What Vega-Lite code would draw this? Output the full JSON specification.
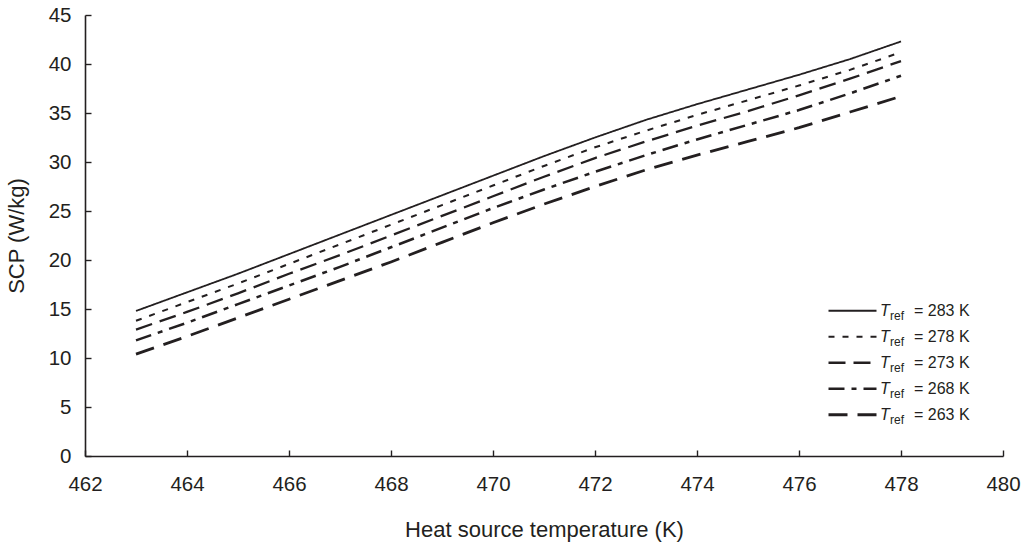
{
  "$schema": "https://vega.github.io/schema/vega-lite/v6.json",
  "width": 918,
  "height": 441,
  "autosize": {"type": "none"},
  "padding": {"left": 85, "top": 15, "right": 19, "bottom": 89},
  "background": "white",
  "config": {
    "view": {"stroke": null},
    "font": "Liberation Sans",
    "axis": {
      "domainColor": "#231f20",
      "domainWidth": 1.6,
      "tickColor": "#231f20",
      "tickWidth": 1.4,
      "grid": false,
      "labelColor": "#231f20",
      "titleColor": "#231f20",
      "labelFont": "Liberation Sans",
      "titleFont": "Liberation Sans",
      "labelFontSize": 20.5,
      "titleFontSize": 22,
      "titleFontWeight": "normal",
      "labelFlush": false
    },
    "legend": {
      "orient": "none",
      "title": null,
      "labelFont": "Liberation Sans",
      "labelColor": "#231f20",
      "symbolType": "stroke",
      "padding": 0,
      "rowPadding": 0,
      "clipHeight": 25.5
    }
  },
  "data": {
    "values": [
      {"T": 463, "SCP": 14.8, "Tref": 283}, {"T": 464, "SCP": 16.7, "Tref": 283}, {"T": 465, "SCP": 18.6, "Tref": 283}, {"T": 466, "SCP": 20.6, "Tref": 283},
      {"T": 467, "SCP": 22.6, "Tref": 283}, {"T": 468, "SCP": 24.6, "Tref": 283}, {"T": 469, "SCP": 26.6, "Tref": 283}, {"T": 470, "SCP": 28.6, "Tref": 283},
      {"T": 471, "SCP": 30.6, "Tref": 283}, {"T": 472, "SCP": 32.5, "Tref": 283}, {"T": 473, "SCP": 34.3, "Tref": 283}, {"T": 474, "SCP": 35.9, "Tref": 283},
      {"T": 475, "SCP": 37.4, "Tref": 283}, {"T": 476, "SCP": 38.9, "Tref": 283}, {"T": 477, "SCP": 40.5, "Tref": 283}, {"T": 478, "SCP": 42.3, "Tref": 283},

      {"T": 463, "SCP": 13.8, "Tref": 278}, {"T": 464, "SCP": 15.7, "Tref": 278}, {"T": 465, "SCP": 17.6, "Tref": 278}, {"T": 466, "SCP": 19.6, "Tref": 278},
      {"T": 467, "SCP": 21.6, "Tref": 278}, {"T": 468, "SCP": 23.6, "Tref": 278}, {"T": 469, "SCP": 25.6, "Tref": 278}, {"T": 470, "SCP": 27.6, "Tref": 278},
      {"T": 471, "SCP": 29.6, "Tref": 278}, {"T": 472, "SCP": 31.5, "Tref": 278}, {"T": 473, "SCP": 33.2, "Tref": 278}, {"T": 474, "SCP": 34.8, "Tref": 278},
      {"T": 475, "SCP": 36.3, "Tref": 278}, {"T": 476, "SCP": 37.8, "Tref": 278}, {"T": 477, "SCP": 39.4, "Tref": 278}, {"T": 478, "SCP": 41.2, "Tref": 278},

      {"T": 463, "SCP": 12.9, "Tref": 273}, {"T": 464, "SCP": 14.7, "Tref": 273}, {"T": 465, "SCP": 16.6, "Tref": 273}, {"T": 466, "SCP": 18.6, "Tref": 273},
      {"T": 467, "SCP": 20.5, "Tref": 273}, {"T": 468, "SCP": 22.5, "Tref": 273}, {"T": 469, "SCP": 24.5, "Tref": 273}, {"T": 470, "SCP": 26.5, "Tref": 273},
      {"T": 471, "SCP": 28.5, "Tref": 273}, {"T": 472, "SCP": 30.4, "Tref": 273}, {"T": 473, "SCP": 32.1, "Tref": 273}, {"T": 474, "SCP": 33.7, "Tref": 273},
      {"T": 475, "SCP": 35.2, "Tref": 273}, {"T": 476, "SCP": 36.8, "Tref": 273}, {"T": 477, "SCP": 38.5, "Tref": 273}, {"T": 478, "SCP": 40.3, "Tref": 273},

      {"T": 463, "SCP": 11.8, "Tref": 268}, {"T": 464, "SCP": 13.6, "Tref": 268}, {"T": 465, "SCP": 15.5, "Tref": 268}, {"T": 466, "SCP": 17.4, "Tref": 268},
      {"T": 467, "SCP": 19.3, "Tref": 268}, {"T": 468, "SCP": 21.3, "Tref": 268}, {"T": 469, "SCP": 23.3, "Tref": 268}, {"T": 470, "SCP": 25.3, "Tref": 268},
      {"T": 471, "SCP": 27.2, "Tref": 268}, {"T": 472, "SCP": 29.0, "Tref": 268}, {"T": 473, "SCP": 30.7, "Tref": 268}, {"T": 474, "SCP": 32.3, "Tref": 268},
      {"T": 475, "SCP": 33.8, "Tref": 268}, {"T": 476, "SCP": 35.3, "Tref": 268}, {"T": 477, "SCP": 37.0, "Tref": 268}, {"T": 478, "SCP": 38.8, "Tref": 268},

      {"T": 463, "SCP": 10.4, "Tref": 263}, {"T": 464, "SCP": 12.2, "Tref": 263}, {"T": 465, "SCP": 14.1, "Tref": 263}, {"T": 466, "SCP": 16.0, "Tref": 263},
      {"T": 467, "SCP": 17.9, "Tref": 263}, {"T": 468, "SCP": 19.8, "Tref": 263}, {"T": 469, "SCP": 21.8, "Tref": 263}, {"T": 470, "SCP": 23.8, "Tref": 263},
      {"T": 471, "SCP": 25.7, "Tref": 263}, {"T": 472, "SCP": 27.5, "Tref": 263}, {"T": 473, "SCP": 29.2, "Tref": 263}, {"T": 474, "SCP": 30.7, "Tref": 263},
      {"T": 475, "SCP": 32.1, "Tref": 263}, {"T": 476, "SCP": 33.5, "Tref": 263}, {"T": 477, "SCP": 35.1, "Tref": 263}, {"T": 478, "SCP": 36.7, "Tref": 263}
    ]
  },
  "mark": {"type": "line", "strokeCap": "butt"},
  "encoding": {
    "x": {
      "field": "T",
      "type": "quantitative",
      "title": "Heat source temperature (K)",
      "scale": {"domain": [462, 480], "nice": false, "zero": false},
      "axis": {
        "values": [462, 464, 466, 468, 470, 472, 474, 476, 478, 480],
        "tickSize": -6,
        "labelPadding": 24,
        "titlePadding": 25
      }
    },
    "y": {
      "field": "SCP",
      "type": "quantitative",
      "title": "SCP (W/kg)",
      "scale": {"domain": [0, 45], "nice": false},
      "axis": {
        "values": [0, 5, 10, 15, 20, 25, 30, 35, 40, 45],
        "tickSize": -6,
        "labelPadding": 20,
        "titlePadding": 20
      }
    },
    "strokeDash": {
      "field": "Tref",
      "type": "ordinal",
      "scale": {
        "domain": [283, 278, 273, 268, 263],
        "range": [[1, 0], [6, 8], [17, 8], [16, 7, 5, 7], [19, 10]]
      },
      "legend": {
        "legendX": 742,
        "legendY": 283,
        "symbolSize": 2304,
        "symbolStrokeColor": "#231f20",
        "symbolStrokeWidth": 2.2,
        "labelFontSize": 16,
        "labelOffset": 36,
        "labelExpr": "'= ' + datum.label + ' K'"
      }
    },
    "strokeWidth": {
      "field": "Tref",
      "type": "ordinal",
      "scale": {
        "domain": [283, 278, 273, 268, 263],
        "range": [1.8, 2.8, 2.8, 2.8, 2.8]
      }
    },
    "opacity": {
      "field": "Tref",
      "type": "ordinal",
      "scale": {"domain": [263, 268, 273, 278, 283], "range": [1, 1, 1, 1, 1]},
      "legend": {
        "legendX": 779,
        "legendY": 283,
        "symbolSize": 1,
        "symbolOpacity": 0,
        "symbolStrokeWidth": 0,
        "labelOffset": 0,
        "labelFontSize": 16,
        "labelFontStyle": "italic",
        "labelExpr": "'T'"
      }
    },
    "color": {
      "field": "Tref",
      "type": "ordinal",
      "scale": {"domain": [278, 283, 273, 268, 263], "range": ["#231f20", "#231f20", "#231f20", "#231f20", "#231f20"]},
      "legend": {
        "legendX": 793,
        "legendY": 288,
        "symbolSize": 1,
        "symbolOpacity": 0,
        "symbolStrokeWidth": 0,
        "labelOffset": 0,
        "labelFontSize": 12,
        "labelExpr": "'ref'"
      }
    }
  }
}
